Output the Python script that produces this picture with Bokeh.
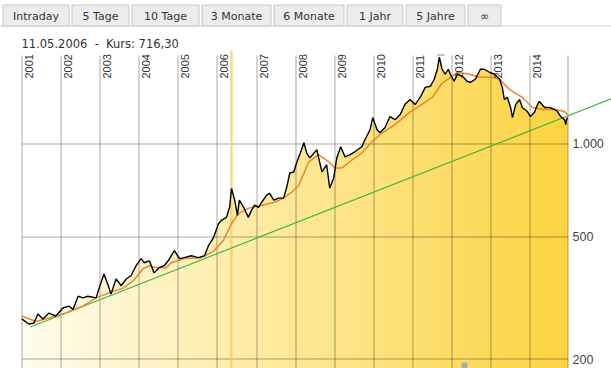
import math
from bokeh.plotting import figure
from bokeh.models import Range1d
from bokeh.core.properties import value
from bokeh.embed import file_html
from bokeh.resources import INLINE

# ---------------- data ----------------
tab_labels = ["Intraday", "5 Tage", "10 Tage", "3 Monate", "6 Monate", "1 Jahr", "5 Jahre", "\u221e"]
header_text = "11.05.2006\u00a0\u00a0-\u00a0\u00a0Kurs: 716,30"
highlight_date = [2006.356]

years = [2001, 2002, 2003, 2004, 2005, 2006, 2007, 2008, 2009, 2010, 2011, 2012, 2013, 2014]
year_labels = [str(y) for y in years]
price_levels = [1000, 500, 200]
price_level_labels = ["1.000", "500", "200"]

dates = [2001.00, 2001.18, 2001.31, 2001.41, 2001.54, 2001.69, 2001.87, 2002.05, 2002.21, 2002.31,
         2002.44, 2002.56, 2002.69, 2002.90, 2002.97, 2003.10, 2003.21, 2003.28, 2003.41, 2003.54,
         2003.67, 2003.79, 2003.92, 2004.05, 2004.13, 2004.26, 2004.38, 2004.51, 2004.64, 2004.74,
         2004.90, 2005.03, 2005.15, 2005.33, 2005.51, 2005.67, 2005.77, 2005.90, 2006.03, 2006.10,
         2006.23, 2006.31, 2006.36, 2006.44, 2006.51, 2006.56, 2006.67, 2006.79, 2006.87, 2006.95,
         2007.05, 2007.13, 2007.26, 2007.33, 2007.44, 2007.56, 2007.69, 2007.77, 2007.85, 2007.95,
         2008.03, 2008.10, 2008.21, 2008.28, 2008.36, 2008.54, 2008.67, 2008.79, 2008.87, 2008.97,
         2009.05, 2009.15, 2009.26, 2009.38, 2009.51, 2009.69, 2009.77, 2009.90, 2009.97, 2010.08,
         2010.15, 2010.28, 2010.41, 2010.54, 2010.67, 2010.79, 2010.92, 2011.05, 2011.18, 2011.31,
         2011.44, 2011.54, 2011.62, 2011.67, 2011.74, 2011.82, 2011.90, 2011.95, 2012.05, 2012.13,
         2012.26, 2012.38, 2012.46, 2012.59, 2012.72, 2012.82, 2012.95, 2013.08, 2013.21, 2013.28,
         2013.33, 2013.41, 2013.49, 2013.54, 2013.62, 2013.72, 2013.79, 2013.92, 2014.00, 2014.10,
         2014.18, 2014.23, 2014.36, 2014.49, 2014.62, 2014.69, 2014.77, 2014.87, 2014.90, 2014.92,
         2014.95]
prices = [270, 260, 262, 280, 270, 282, 276, 293, 297, 290,
          320, 316, 320, 316, 338, 378, 346, 325, 364, 346,
          364, 373, 402, 424, 411, 417, 381, 396, 402, 417,
          450, 424, 427, 433, 427, 433, 467, 496, 551, 564,
          577, 622, 716, 656, 586, 656, 622, 577, 608, 632,
          622, 646, 681, 691, 656, 666, 666, 723, 804, 810,
          873, 920, 1008, 934, 900, 956, 810, 854, 718, 774,
          900, 978, 907, 920, 942, 978, 1031, 1111, 1216, 1111,
          1086, 1128, 1226, 1198, 1244, 1341, 1393, 1341, 1414, 1525,
          1537, 1620, 1746, 1912, 1746, 1682, 1746, 1682, 1596, 1682,
          1657, 1596, 1584, 1620, 1746, 1746, 1707, 1682, 1620, 1525,
          1393, 1414, 1312, 1216, 1341, 1393, 1312, 1273, 1226, 1263,
          1341, 1372, 1312, 1312, 1292, 1273, 1226, 1198, 1154, 1198,
          1216]

ma_dates = [2001.00, 2001.36, 2001.69, 2002.05, 2002.56, 2002.90, 2003.23, 2003.59, 2003.85, 2004.10,
            2004.26, 2004.44, 2004.69, 2004.82, 2005.15, 2005.59, 2005.92, 2006.15, 2006.36, 2006.54,
            2006.79, 2007.13, 2007.46, 2007.69, 2007.90, 2008.08, 2008.33, 2008.59, 2008.85, 2009.00,
            2009.18, 2009.44, 2009.69, 2009.95, 2010.21, 2010.54, 2010.90, 2011.15, 2011.49, 2011.74,
            2012.13, 2012.44, 2012.69, 2013.03, 2013.21, 2013.46, 2013.79, 2014.05, 2014.31, 2014.64,
            2014.87, 2014.95]
ma_values = [276, 265, 272, 280, 297, 316, 328, 340, 359, 393,
             402, 396, 396, 411, 424, 427, 450, 485, 551, 594,
             617, 632, 646, 666, 697, 734, 873, 920, 873, 835,
             835, 886, 934, 1015, 1086, 1154, 1263, 1322, 1414, 1572,
             1707, 1682, 1644, 1644, 1620, 1502, 1414, 1312, 1292, 1292,
             1273, 1244]

trend_dates = [2001.22, 2016.10]
trend_values = [254, 1406]

# ---------------- layout helpers (reference pixel -> data) ----------------
W, H = 611, 368
X2001_PX, PX_PER_YEAR = 21.3, 39.13
Y1000_PX, PX_PER_DECADE = 143.3, 308.0


def dx(rx):
    return 2001 + (rx - X2001_PX) / PX_PER_YEAR


def dy(ry):
    return 10 ** (3 + (Y1000_PX - ry) / PX_PER_DECADE)


def px_of_x(v):
    return X2001_PX + (v - 2001) * PX_PER_YEAR


def px_of_y(v):
    return Y1000_PX - (math.log10(v) - 3) * PX_PER_DECADE


def snap_x(v):
    return dx(math.floor(px_of_x(v)) + 0.5)


def snap_y(v):
    return dy(math.floor(px_of_y(v)) + 0.5)


p = figure(width=W, height=H,
           x_range=Range1d(dx(0), dx(W)),
           y_range=Range1d(dy(H), dy(0)),
           y_axis_type="log", x_axis_location=None, y_axis_location=None,
           toolbar_location=None, output_backend="svg", min_border=0)
p.outline_line_color = None
p.background_fill_color = "white"
p.border_fill_color = "white"
p.grid.visible = False

# ---------------- tabs ----------------
tab_left = [2, 71, 131, 201, 273, 346, 405, 467]
tab_right = [68, 128, 198, 270, 343, 402, 464, 500]
p.segment(x0=[dx(0)], x1=[dx(620)], y0=[dy(25.5)], y1=[dy(25.5)], line_color="#cfcfcf", line_width=1)
p.quad(left=[dx(l + 0.5) for l in tab_left], right=[dx(r + 0.5) for r in tab_right],
       top=dy(4.5), bottom=dy(25.5), fill_color="#ececec", line_color="#c8c8c8", line_width=1)
p.text(x=[dx((l + r) / 2 + 0.5) for l, r in zip(tab_left, tab_right)], y=dy(15.5), text=tab_labels,
       text_align="center", text_baseline="middle", text_font=value("DejaVu Sans"),
       text_font_size="11px", text_color="#333333")

# header
p.text(x=[dx(21)], y=[dy(43.5)], text=[header_text], text_align="left", text_baseline="middle",
       text_font=value("DejaVu Sans"), text_font_size="11.5px", text_color="#333333")

# ---------------- gradient area under the price ----------------
c_left = (255, 252, 238)
c_right = (252, 211, 62)
ybot = dy(H + 30)
xs_p, ys_p, cols = [], [], []
span = dates[-1] - dates[0]
for i in range(len(dates) - 1):
    xs_p.append([dates[i], dates[i], dates[i + 1], dates[i + 1]])
    ys_p.append([ybot, prices[i], prices[i + 1], ybot])
    t = ((dates[i] + dates[i + 1]) / 2 - dates[0]) / span
    c = tuple(int(round(a + (b - a) * t)) for a, b in zip(c_left, c_right))
    cols.append("#%02x%02x%02x" % c)
p.patches(xs_p, ys_p, fill_color=cols, line_color=cols, line_width=0.7)

# ---------------- grid ----------------
vx = [snap_x(y) for y in years] + [snap_x(dates[-1])]
p.segment(x0=vx, x1=vx, y0=dy(55), y1=dy(H + 20), line_color="black", line_alpha=0.34, line_width=1)
hy = [snap_y(v) for v in price_levels]
p.segment(x0=snap_x(years[0]), x1=snap_x(dates[-1]), y0=hy, y1=hy,
          line_color="black", line_alpha=0.34, line_width=1)

# highlighted date
p.segment(x0=highlight_date, x1=highlight_date, y0=dy(50), y1=dy(H + 20),
          line_color="#f5d060", line_alpha=0.8, line_width=2.5)

# ---------------- lines ----------------
p.line(trend_dates, trend_values, line_color="#3cb43c", line_width=1.1)
p.line(ma_dates, ma_values, line_color="#e4882c", line_width=1.5)
p.line(dates, prices, line_color="black", line_width=1.4)

# marker of the all-time high and the small scroll handle
i_max = prices.index(max(prices))
p.segment(x0=[dates[i_max] - 0.06], x1=[dates[i_max] + 0.14], y0=[snap_y(max(prices) * 1.015)],
          y1=[snap_y(max(prices) * 1.015)], line_color="#888888", line_width=1)
p.quad(left=[dx(461)], right=[dx(467)], top=[dy(362)], bottom=[dy(370)], fill_color="#aaaaaa",
       line_color=None)

# ---------------- labels ----------------
p.text(x=years, y=dy(78), text=year_labels, angle=math.pi / 2, x_offset=7,
       text_align="left", text_baseline="middle", text_font=value("Liberation Sans"),
       text_font_size="11px", text_color="#333333")
p.text(x=dx(572), y=price_levels, text=price_level_labels,
       text_align="left", text_baseline="middle", text_font=value("Liberation Sans"),
       text_font_size="12.5px", text_color="#444444")

open("out.html", "w").write(file_html(p, INLINE))
